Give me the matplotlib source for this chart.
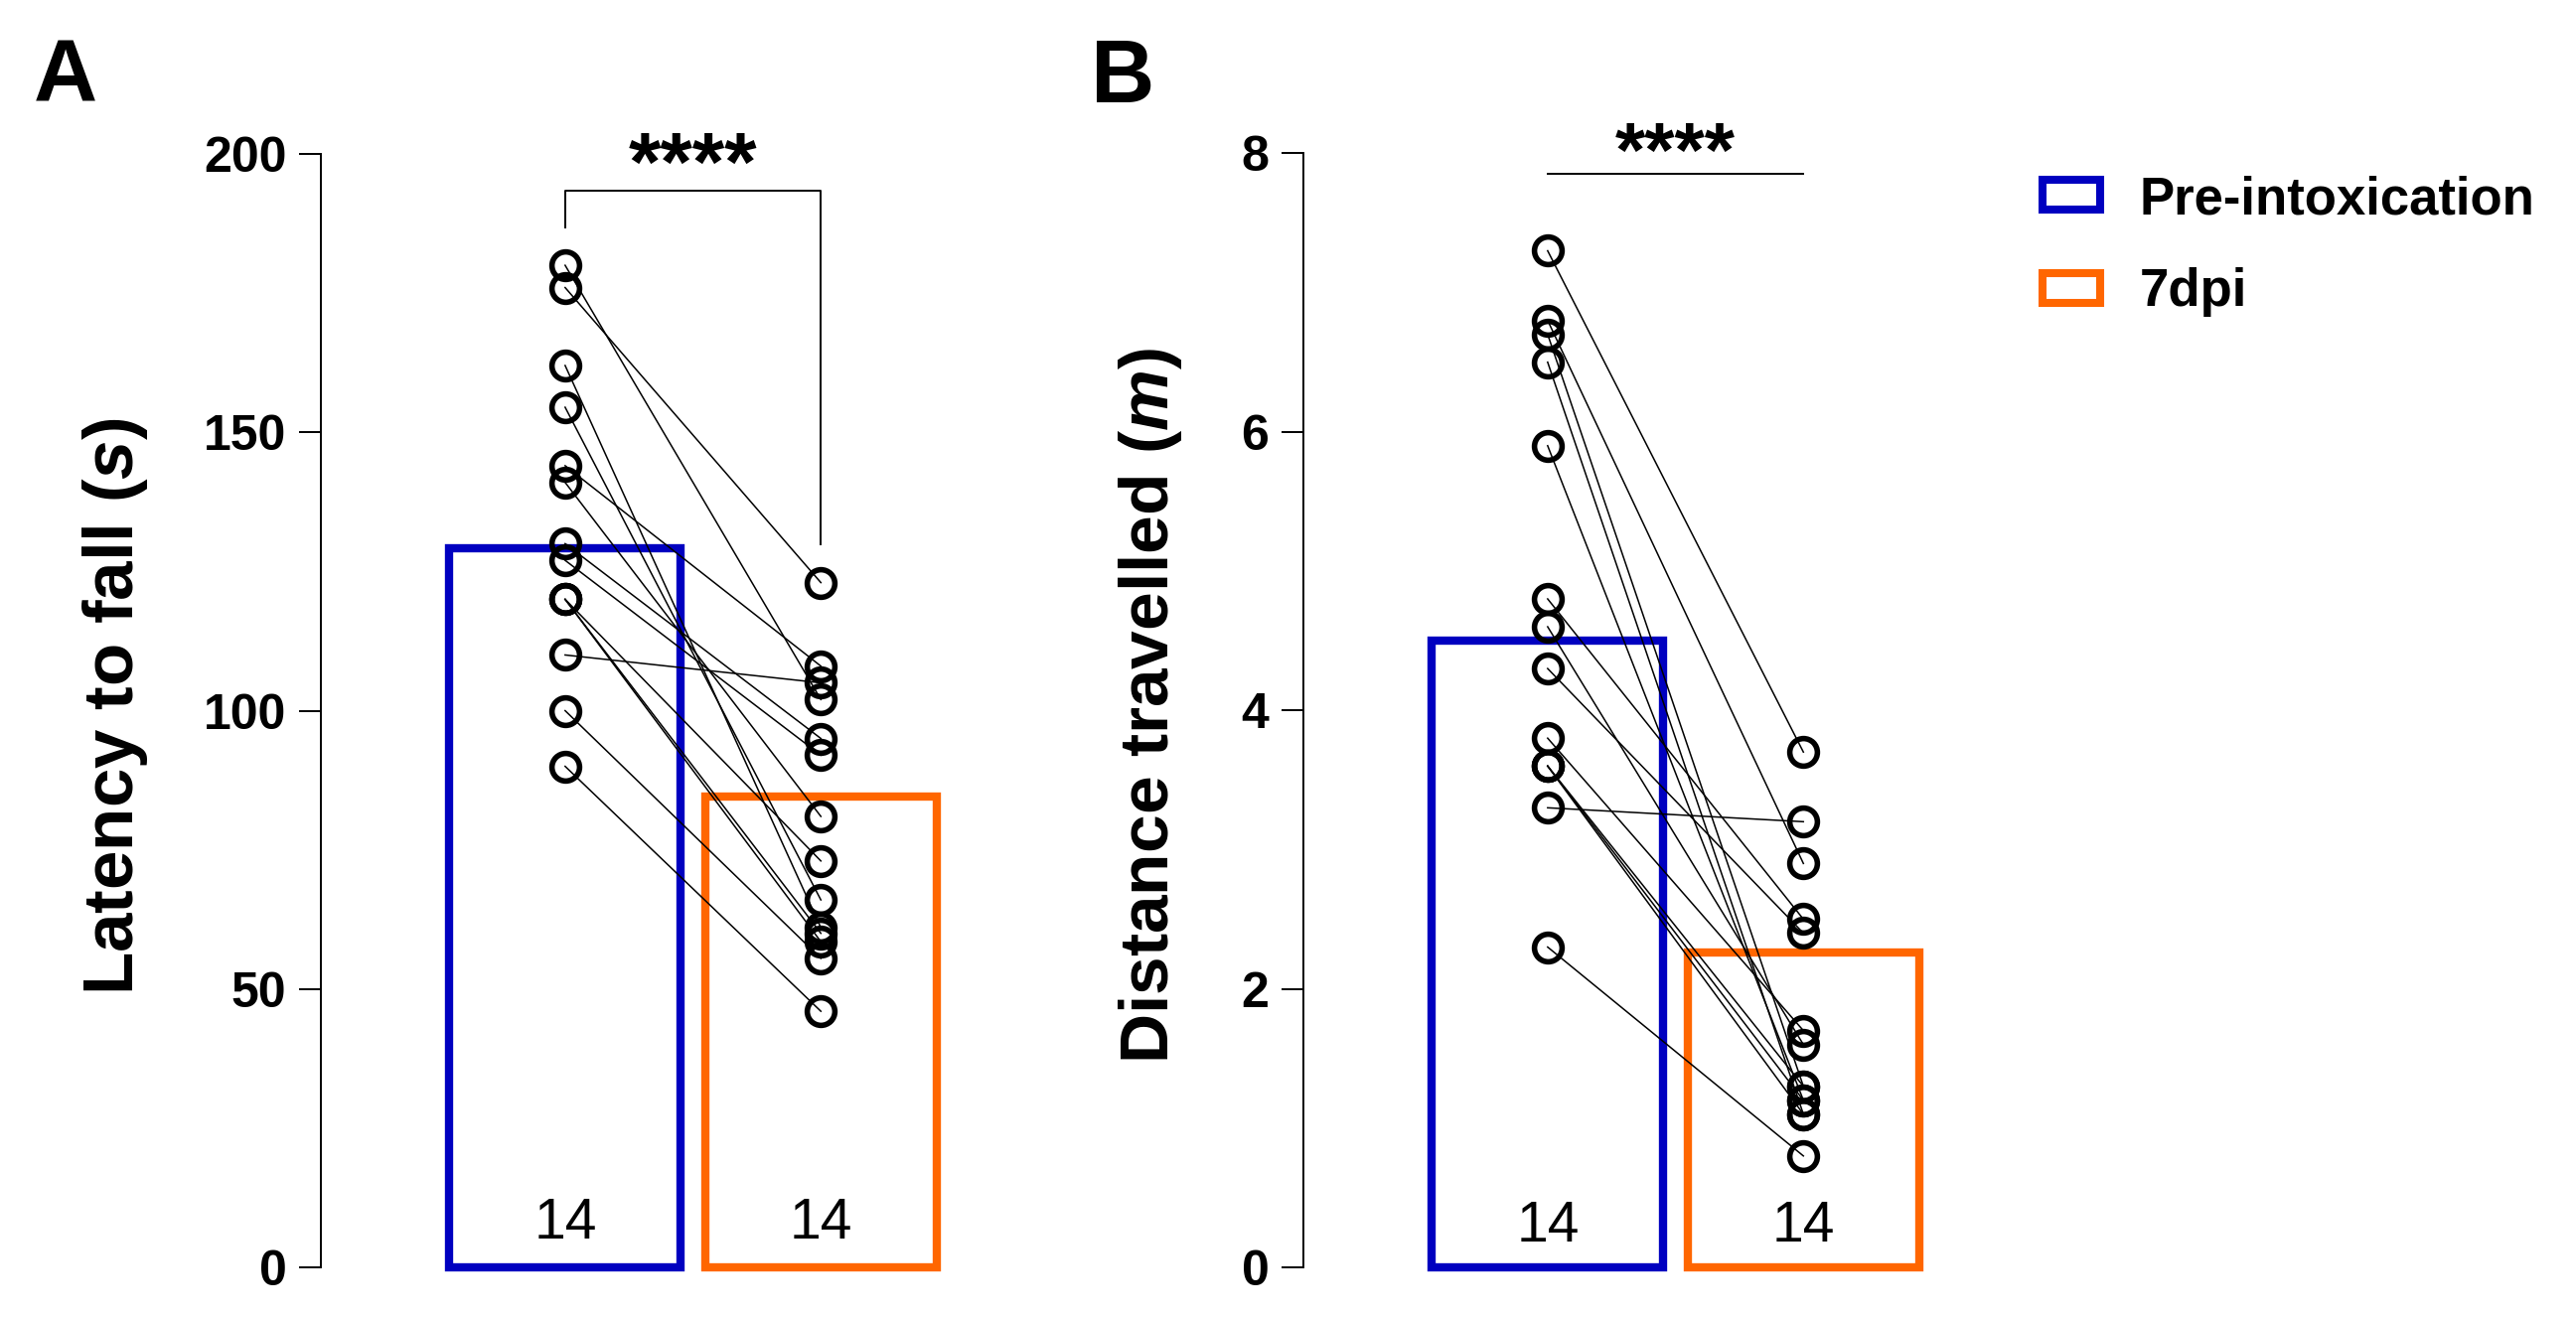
import matplotlib

matplotlib.use("Agg")
import matplotlib.pyplot as plt
from matplotlib.patches import Patch

W, H = 2593, 1326

plt.rcParams["font.family"] = ["Liberation Sans", "DejaVu Sans"]
plt.rcParams["mathtext.fontset"] = "custom"
plt.rcParams["mathtext.rm"] = "Liberation Sans:bold"
plt.rcParams["mathtext.it"] = "Liberation Sans:italic:bold"

GROUPS = ["Pre-intoxication", "7dpi"]
GROUP_COLORS = ["#0000C0", "#FF6600"]
N_LABELS = ["14", "14"]

# panel A - latency to fall (s), one entry per animal (pre, post paired)
latency_pre = [180, 176, 162, 154.5, 144, 141, 130, 127, 120, 120, 120, 110, 100, 90]
latency_post = [102, 123, 61, 66, 108, 81, 95, 92, 73, 60, 58.5, 105, 55.5, 46]
latency_bars = [129.2, 84.5]
latency_ticks = [0, 50, 100, 150, 200]

# panel B - distance travelled (m)
distance_pre = [7.3, 6.8, 6.7, 6.5, 5.9, 4.8, 4.6, 4.3, 3.8, 3.6, 3.6, 3.6, 3.3, 2.3]
distance_post = [3.7, 2.9, 1.3, 1.1, 1.2, 2.5, 1.6, 2.4, 1.7, 1.3, 1.2, 1.1, 3.2, 0.8]
distance_bars = [4.5, 2.26]
distance_ticks = [0, 2, 4, 6, 8]


def draw_panel(ax, pre, post, bars, ticks, n_y):
    x = [0, 1]
    bc = ax.bar(x, bars, width=0.905, fill=False, edgecolor=GROUP_COLORS,
                linewidth=6.0, clip_on=False, zorder=1)
    for p in bc.patches:
        p.set_joinstyle("miter")
    for a, b in zip(pre, post):
        ax.plot(x, [a, b], color="black", lw=1.1, zorder=2, clip_on=False)
    for xi, vals in zip(x, [pre, post]):
        ax.plot([xi] * len(vals), vals, "o", ms=20, mfc="none", mec="black",
                mew=4.0, zorder=3, clip_on=False)
    for xi, n in zip(x, N_LABELS):
        ax.text(xi, n_y, n, ha="center", va="center", fontsize=41)

    ax.set_xlim(-0.955, 1.5)
    ax.set_ylim(ticks[0], ticks[-1])
    ax.set_xticks([])
    ax.set_yticks(ticks)
    for s in ["top", "right", "bottom"]:
        ax.spines[s].set_visible(False)
    ax.spines["left"].set_linewidth(1.4)
    ax.tick_params(axis="y", length=16, width=1.4, pad=9, labelsize=36)
    for lbl in ax.get_yticklabels():
        lbl.set_fontweight("bold")


def main() -> None:
    fig = plt.figure(figsize=(W / 100, H / 100), dpi=100)
    axA = fig.add_axes([323 / W, 1 - 1276 / H, 632 / W, (1276 - 155) / H])
    axB = fig.add_axes([1312 / W, 1 - 1276 / H, 632 / W, (1276 - 154.3) / H])

    draw_panel(axA, latency_pre, latency_post, latency_bars, latency_ticks, 7.85)
    draw_panel(axB, distance_pre, distance_post, distance_bars, distance_ticks, 0.29)

    # significance
    axA.plot([0, 0, 1, 1], [186.8, 193.4, 193.4, 129.9], color="black", lw=1.4, clip_on=False)
    axA.text(0.5, 193.4, "****", ha="center", va="baseline", fontsize=60, weight="bold")
    axB.plot([0, 1], [7.85, 7.85], color="black", lw=1.4, clip_on=False)
    axB.text(0.5, 7.83, "****", ha="center", va="baseline", fontsize=56, weight="bold")

    fig.text(116 / W, 1 - 711 / H, "Latency to fall ($s$)", rotation=90,
             ha="center", va="center", fontsize=51, weight="bold")
    fig.text(1158 / W, 1 - 711 / H, "Distance travelled ($m$)", rotation=90,
             ha="center", va="center", fontsize=50, weight="bold")

    fig.text(34 / W, 1 - 103 / H, "A", fontsize=64, weight="bold", va="baseline")
    fig.text(1098 / W, 1 - 103 / H, "B", fontsize=64, weight="bold", va="baseline")

    handles = [Patch(facecolor="none", edgecolor=c, linewidth=5.8, label=g)
               for g, c in zip(GROUPS, GROUP_COLORS)]
    fig.legend(handles=handles, loc="upper left", bbox_to_anchor=(2056 / W, 1 - 176 / H),
               frameon=False, prop={"weight": "bold", "size": 38}, handlelength=1.1,
               handleheight=0.5, handletextpad=0.75, labelspacing=0.82,
               borderaxespad=0, borderpad=0)

    fig.savefig("out.png", dpi=100)


if __name__ == "__main__":
    main()
